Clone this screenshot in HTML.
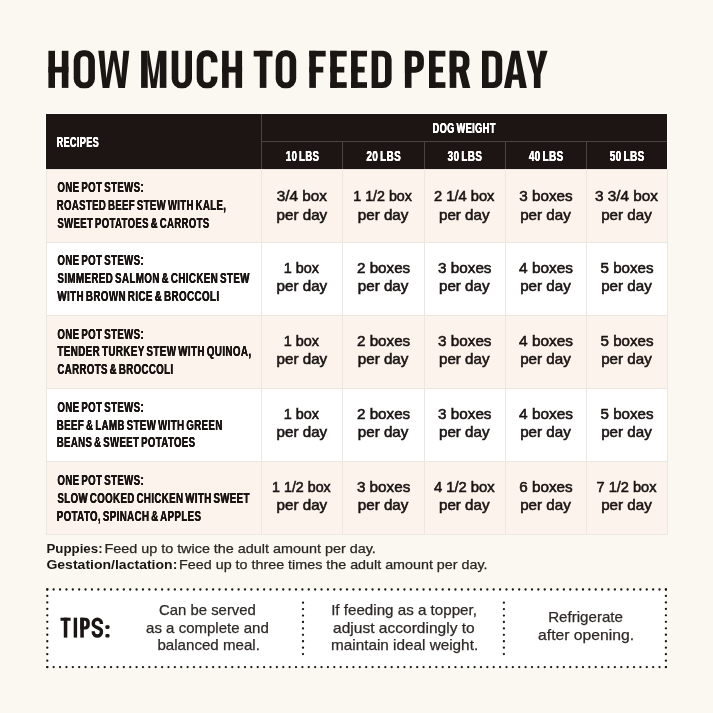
<!DOCTYPE html>
<html><head><meta charset="utf-8"><title>How much to feed per day</title>
<style>
html,body{margin:0;padding:0}
body{width:713px;height:713px;background:#fbf8f1;position:relative;overflow:hidden;font-family:"Liberation Sans",sans-serif}
.b{position:absolute}
#txt{position:absolute;left:0;top:0;width:713px;height:713px;will-change:transform}
.t{position:absolute;left:0;top:0;white-space:nowrap;line-height:1;transform-origin:0 0;font-family:"Liberation Sans",sans-serif}
</style></head><body>
<div class="b" style="left:46.40px;top:114.30px;width:620.90px;height:54.70px;background:#1d1514"></div>
<div class="b" style="left:46.40px;top:169.00px;width:620.90px;height:73.70px;background:#fbf3ec"></div>
<div class="b" style="left:46.40px;top:242.70px;width:620.90px;height:72.80px;background:#ffffff"></div>
<div class="b" style="left:46.40px;top:315.50px;width:620.90px;height:73.00px;background:#fbf3ec"></div>
<div class="b" style="left:46.40px;top:388.50px;width:620.90px;height:73.00px;background:#ffffff"></div>
<div class="b" style="left:46.40px;top:461.50px;width:620.90px;height:73.10px;background:#fbf3ec"></div>
<div class="b" style="left:45.90px;top:169.00px;width:1.00px;height:365.60px;background:#ede7e1"></div>
<div class="b" style="left:261.20px;top:169.00px;width:1.00px;height:365.60px;background:#ede7e1"></div>
<div class="b" style="left:342.40px;top:169.00px;width:1.00px;height:365.60px;background:#ede7e1"></div>
<div class="b" style="left:423.60px;top:169.00px;width:1.00px;height:365.60px;background:#ede7e1"></div>
<div class="b" style="left:504.80px;top:169.00px;width:1.00px;height:365.60px;background:#ede7e1"></div>
<div class="b" style="left:586.00px;top:169.00px;width:1.00px;height:365.60px;background:#ede7e1"></div>
<div class="b" style="left:666.80px;top:169.00px;width:1.00px;height:365.60px;background:#ede7e1"></div>
<div class="b" style="left:45.90px;top:168.50px;width:621.90px;height:1.00px;background:#ede7e1"></div>
<div class="b" style="left:45.90px;top:242.20px;width:621.90px;height:1.00px;background:#ede7e1"></div>
<div class="b" style="left:45.90px;top:315.00px;width:621.90px;height:1.00px;background:#ede7e1"></div>
<div class="b" style="left:45.90px;top:388.00px;width:621.90px;height:1.00px;background:#ede7e1"></div>
<div class="b" style="left:45.90px;top:461.00px;width:621.90px;height:1.00px;background:#ede7e1"></div>
<div class="b" style="left:45.90px;top:534.10px;width:621.90px;height:1.00px;background:#ede7e1"></div>
<div class="b" style="left:261.20px;top:114.30px;width:1.00px;height:54.70px;background:#4b4340"></div>
<div class="b" style="left:342.40px;top:141.60px;width:1.00px;height:27.40px;background:#4b4340"></div>
<div class="b" style="left:423.60px;top:141.60px;width:1.00px;height:27.40px;background:#4b4340"></div>
<div class="b" style="left:504.80px;top:141.60px;width:1.00px;height:27.40px;background:#4b4340"></div>
<div class="b" style="left:586.00px;top:141.60px;width:1.00px;height:27.40px;background:#4b4340"></div>
<div class="b" style="left:261.70px;top:141.10px;width:405.60px;height:1.00px;background:#4b4340"></div>
<div class="b" style="left:45.40px;top:113.30px;width:622.90px;height:1.00px;background:#fffdfa"></div>
<div class="b" style="left:667.30px;top:113.30px;width:1.00px;height:55.70px;background:#fffdfa"></div>
<div class="b" style="left:45.40px;top:113.30px;width:1.00px;height:55.70px;background:#fffdfa"></div>
<svg class="b" style="left:0;top:0" width="713" height="713" viewBox="0 0 713 713" role="img" aria-label="HOW MUCH TO FEED PER DAY"><rect x="47.3" y="589.5" width="618.60" height="77.60" fill="#fff"/><g fill="#1a1413"><circle cx="47.30" cy="589.50" r="1.15"/><circle cx="53.68" cy="589.50" r="1.15"/><circle cx="60.05" cy="589.50" r="1.15"/><circle cx="66.43" cy="589.50" r="1.15"/><circle cx="72.81" cy="589.50" r="1.15"/><circle cx="79.19" cy="589.50" r="1.15"/><circle cx="85.56" cy="589.50" r="1.15"/><circle cx="91.94" cy="589.50" r="1.15"/><circle cx="98.32" cy="589.50" r="1.15"/><circle cx="104.70" cy="589.50" r="1.15"/><circle cx="111.07" cy="589.50" r="1.15"/><circle cx="117.45" cy="589.50" r="1.15"/><circle cx="123.83" cy="589.50" r="1.15"/><circle cx="130.21" cy="589.50" r="1.15"/><circle cx="136.58" cy="589.50" r="1.15"/><circle cx="142.96" cy="589.50" r="1.15"/><circle cx="149.34" cy="589.50" r="1.15"/><circle cx="155.71" cy="589.50" r="1.15"/><circle cx="162.09" cy="589.50" r="1.15"/><circle cx="168.47" cy="589.50" r="1.15"/><circle cx="174.85" cy="589.50" r="1.15"/><circle cx="181.22" cy="589.50" r="1.15"/><circle cx="187.60" cy="589.50" r="1.15"/><circle cx="193.98" cy="589.50" r="1.15"/><circle cx="200.36" cy="589.50" r="1.15"/><circle cx="206.73" cy="589.50" r="1.15"/><circle cx="213.11" cy="589.50" r="1.15"/><circle cx="219.49" cy="589.50" r="1.15"/><circle cx="225.86" cy="589.50" r="1.15"/><circle cx="232.24" cy="589.50" r="1.15"/><circle cx="238.62" cy="589.50" r="1.15"/><circle cx="245.00" cy="589.50" r="1.15"/><circle cx="251.37" cy="589.50" r="1.15"/><circle cx="257.75" cy="589.50" r="1.15"/><circle cx="264.13" cy="589.50" r="1.15"/><circle cx="270.51" cy="589.50" r="1.15"/><circle cx="276.88" cy="589.50" r="1.15"/><circle cx="283.26" cy="589.50" r="1.15"/><circle cx="289.64" cy="589.50" r="1.15"/><circle cx="296.02" cy="589.50" r="1.15"/><circle cx="302.39" cy="589.50" r="1.15"/><circle cx="308.77" cy="589.50" r="1.15"/><circle cx="315.15" cy="589.50" r="1.15"/><circle cx="321.52" cy="589.50" r="1.15"/><circle cx="327.90" cy="589.50" r="1.15"/><circle cx="334.28" cy="589.50" r="1.15"/><circle cx="340.66" cy="589.50" r="1.15"/><circle cx="347.03" cy="589.50" r="1.15"/><circle cx="353.41" cy="589.50" r="1.15"/><circle cx="359.79" cy="589.50" r="1.15"/><circle cx="366.17" cy="589.50" r="1.15"/><circle cx="372.54" cy="589.50" r="1.15"/><circle cx="378.92" cy="589.50" r="1.15"/><circle cx="385.30" cy="589.50" r="1.15"/><circle cx="391.68" cy="589.50" r="1.15"/><circle cx="398.05" cy="589.50" r="1.15"/><circle cx="404.43" cy="589.50" r="1.15"/><circle cx="410.81" cy="589.50" r="1.15"/><circle cx="417.18" cy="589.50" r="1.15"/><circle cx="423.56" cy="589.50" r="1.15"/><circle cx="429.94" cy="589.50" r="1.15"/><circle cx="436.32" cy="589.50" r="1.15"/><circle cx="442.69" cy="589.50" r="1.15"/><circle cx="449.07" cy="589.50" r="1.15"/><circle cx="455.45" cy="589.50" r="1.15"/><circle cx="461.83" cy="589.50" r="1.15"/><circle cx="468.20" cy="589.50" r="1.15"/><circle cx="474.58" cy="589.50" r="1.15"/><circle cx="480.96" cy="589.50" r="1.15"/><circle cx="487.34" cy="589.50" r="1.15"/><circle cx="493.71" cy="589.50" r="1.15"/><circle cx="500.09" cy="589.50" r="1.15"/><circle cx="506.47" cy="589.50" r="1.15"/><circle cx="512.84" cy="589.50" r="1.15"/><circle cx="519.22" cy="589.50" r="1.15"/><circle cx="525.60" cy="589.50" r="1.15"/><circle cx="531.98" cy="589.50" r="1.15"/><circle cx="538.35" cy="589.50" r="1.15"/><circle cx="544.73" cy="589.50" r="1.15"/><circle cx="551.11" cy="589.50" r="1.15"/><circle cx="557.49" cy="589.50" r="1.15"/><circle cx="563.86" cy="589.50" r="1.15"/><circle cx="570.24" cy="589.50" r="1.15"/><circle cx="576.62" cy="589.50" r="1.15"/><circle cx="582.99" cy="589.50" r="1.15"/><circle cx="589.37" cy="589.50" r="1.15"/><circle cx="595.75" cy="589.50" r="1.15"/><circle cx="602.13" cy="589.50" r="1.15"/><circle cx="608.50" cy="589.50" r="1.15"/><circle cx="614.88" cy="589.50" r="1.15"/><circle cx="621.26" cy="589.50" r="1.15"/><circle cx="627.64" cy="589.50" r="1.15"/><circle cx="634.01" cy="589.50" r="1.15"/><circle cx="640.39" cy="589.50" r="1.15"/><circle cx="646.77" cy="589.50" r="1.15"/><circle cx="653.15" cy="589.50" r="1.15"/><circle cx="659.52" cy="589.50" r="1.15"/><circle cx="665.90" cy="589.50" r="1.15"/><circle cx="47.30" cy="667.10" r="1.15"/><circle cx="53.68" cy="667.10" r="1.15"/><circle cx="60.05" cy="667.10" r="1.15"/><circle cx="66.43" cy="667.10" r="1.15"/><circle cx="72.81" cy="667.10" r="1.15"/><circle cx="79.19" cy="667.10" r="1.15"/><circle cx="85.56" cy="667.10" r="1.15"/><circle cx="91.94" cy="667.10" r="1.15"/><circle cx="98.32" cy="667.10" r="1.15"/><circle cx="104.70" cy="667.10" r="1.15"/><circle cx="111.07" cy="667.10" r="1.15"/><circle cx="117.45" cy="667.10" r="1.15"/><circle cx="123.83" cy="667.10" r="1.15"/><circle cx="130.21" cy="667.10" r="1.15"/><circle cx="136.58" cy="667.10" r="1.15"/><circle cx="142.96" cy="667.10" r="1.15"/><circle cx="149.34" cy="667.10" r="1.15"/><circle cx="155.71" cy="667.10" r="1.15"/><circle cx="162.09" cy="667.10" r="1.15"/><circle cx="168.47" cy="667.10" r="1.15"/><circle cx="174.85" cy="667.10" r="1.15"/><circle cx="181.22" cy="667.10" r="1.15"/><circle cx="187.60" cy="667.10" r="1.15"/><circle cx="193.98" cy="667.10" r="1.15"/><circle cx="200.36" cy="667.10" r="1.15"/><circle cx="206.73" cy="667.10" r="1.15"/><circle cx="213.11" cy="667.10" r="1.15"/><circle cx="219.49" cy="667.10" r="1.15"/><circle cx="225.86" cy="667.10" r="1.15"/><circle cx="232.24" cy="667.10" r="1.15"/><circle cx="238.62" cy="667.10" r="1.15"/><circle cx="245.00" cy="667.10" r="1.15"/><circle cx="251.37" cy="667.10" r="1.15"/><circle cx="257.75" cy="667.10" r="1.15"/><circle cx="264.13" cy="667.10" r="1.15"/><circle cx="270.51" cy="667.10" r="1.15"/><circle cx="276.88" cy="667.10" r="1.15"/><circle cx="283.26" cy="667.10" r="1.15"/><circle cx="289.64" cy="667.10" r="1.15"/><circle cx="296.02" cy="667.10" r="1.15"/><circle cx="302.39" cy="667.10" r="1.15"/><circle cx="308.77" cy="667.10" r="1.15"/><circle cx="315.15" cy="667.10" r="1.15"/><circle cx="321.52" cy="667.10" r="1.15"/><circle cx="327.90" cy="667.10" r="1.15"/><circle cx="334.28" cy="667.10" r="1.15"/><circle cx="340.66" cy="667.10" r="1.15"/><circle cx="347.03" cy="667.10" r="1.15"/><circle cx="353.41" cy="667.10" r="1.15"/><circle cx="359.79" cy="667.10" r="1.15"/><circle cx="366.17" cy="667.10" r="1.15"/><circle cx="372.54" cy="667.10" r="1.15"/><circle cx="378.92" cy="667.10" r="1.15"/><circle cx="385.30" cy="667.10" r="1.15"/><circle cx="391.68" cy="667.10" r="1.15"/><circle cx="398.05" cy="667.10" r="1.15"/><circle cx="404.43" cy="667.10" r="1.15"/><circle cx="410.81" cy="667.10" r="1.15"/><circle cx="417.18" cy="667.10" r="1.15"/><circle cx="423.56" cy="667.10" r="1.15"/><circle cx="429.94" cy="667.10" r="1.15"/><circle cx="436.32" cy="667.10" r="1.15"/><circle cx="442.69" cy="667.10" r="1.15"/><circle cx="449.07" cy="667.10" r="1.15"/><circle cx="455.45" cy="667.10" r="1.15"/><circle cx="461.83" cy="667.10" r="1.15"/><circle cx="468.20" cy="667.10" r="1.15"/><circle cx="474.58" cy="667.10" r="1.15"/><circle cx="480.96" cy="667.10" r="1.15"/><circle cx="487.34" cy="667.10" r="1.15"/><circle cx="493.71" cy="667.10" r="1.15"/><circle cx="500.09" cy="667.10" r="1.15"/><circle cx="506.47" cy="667.10" r="1.15"/><circle cx="512.84" cy="667.10" r="1.15"/><circle cx="519.22" cy="667.10" r="1.15"/><circle cx="525.60" cy="667.10" r="1.15"/><circle cx="531.98" cy="667.10" r="1.15"/><circle cx="538.35" cy="667.10" r="1.15"/><circle cx="544.73" cy="667.10" r="1.15"/><circle cx="551.11" cy="667.10" r="1.15"/><circle cx="557.49" cy="667.10" r="1.15"/><circle cx="563.86" cy="667.10" r="1.15"/><circle cx="570.24" cy="667.10" r="1.15"/><circle cx="576.62" cy="667.10" r="1.15"/><circle cx="582.99" cy="667.10" r="1.15"/><circle cx="589.37" cy="667.10" r="1.15"/><circle cx="595.75" cy="667.10" r="1.15"/><circle cx="602.13" cy="667.10" r="1.15"/><circle cx="608.50" cy="667.10" r="1.15"/><circle cx="614.88" cy="667.10" r="1.15"/><circle cx="621.26" cy="667.10" r="1.15"/><circle cx="627.64" cy="667.10" r="1.15"/><circle cx="634.01" cy="667.10" r="1.15"/><circle cx="640.39" cy="667.10" r="1.15"/><circle cx="646.77" cy="667.10" r="1.15"/><circle cx="653.15" cy="667.10" r="1.15"/><circle cx="659.52" cy="667.10" r="1.15"/><circle cx="665.90" cy="667.10" r="1.15"/><circle cx="47.30" cy="589.50" r="1.15"/><circle cx="47.30" cy="595.97" r="1.15"/><circle cx="47.30" cy="602.43" r="1.15"/><circle cx="47.30" cy="608.90" r="1.15"/><circle cx="47.30" cy="615.37" r="1.15"/><circle cx="47.30" cy="621.83" r="1.15"/><circle cx="47.30" cy="628.30" r="1.15"/><circle cx="47.30" cy="634.77" r="1.15"/><circle cx="47.30" cy="641.23" r="1.15"/><circle cx="47.30" cy="647.70" r="1.15"/><circle cx="47.30" cy="654.17" r="1.15"/><circle cx="47.30" cy="660.63" r="1.15"/><circle cx="47.30" cy="667.10" r="1.15"/><circle cx="665.90" cy="589.50" r="1.15"/><circle cx="665.90" cy="595.97" r="1.15"/><circle cx="665.90" cy="602.43" r="1.15"/><circle cx="665.90" cy="608.90" r="1.15"/><circle cx="665.90" cy="615.37" r="1.15"/><circle cx="665.90" cy="621.83" r="1.15"/><circle cx="665.90" cy="628.30" r="1.15"/><circle cx="665.90" cy="634.77" r="1.15"/><circle cx="665.90" cy="641.23" r="1.15"/><circle cx="665.90" cy="647.70" r="1.15"/><circle cx="665.90" cy="654.17" r="1.15"/><circle cx="665.90" cy="660.63" r="1.15"/><circle cx="665.90" cy="667.10" r="1.15"/><circle cx="303.00" cy="602.70" r="1.15"/><circle cx="303.00" cy="609.12" r="1.15"/><circle cx="303.00" cy="615.55" r="1.15"/><circle cx="303.00" cy="621.98" r="1.15"/><circle cx="303.00" cy="628.40" r="1.15"/><circle cx="303.00" cy="634.83" r="1.15"/><circle cx="303.00" cy="641.25" r="1.15"/><circle cx="303.00" cy="647.68" r="1.15"/><circle cx="303.00" cy="654.10" r="1.15"/><circle cx="503.90" cy="602.70" r="1.15"/><circle cx="503.90" cy="609.12" r="1.15"/><circle cx="503.90" cy="615.55" r="1.15"/><circle cx="503.90" cy="621.98" r="1.15"/><circle cx="503.90" cy="628.40" r="1.15"/><circle cx="503.90" cy="634.83" r="1.15"/><circle cx="503.90" cy="641.25" r="1.15"/><circle cx="503.90" cy="647.68" r="1.15"/><circle cx="503.90" cy="654.10" r="1.15"/></g><g fill="#1b1514" fill-rule="evenodd"><g transform="translate(48.4,50.8)"><path d="M0,0h6.6v37.1h-6.6z"/><path d="M13.4,0h6.6v37.1h-6.6z"/><path d="M0,16h20v5.7h-20z"/></g><g transform="translate(73.7,50.8)"><path d="M9.2,-0.45H12A9.2,9.6 0 0 1 21.2,9.15V27.95A9.2,9.6 0 0 1 12,37.55H9.2A9.2,9.6 0 0 1 0,27.95V9.15A9.2,9.6 0 0 1 9.2,-0.45zM10.6,5.45H10.6A4,4 0 0 1 14.6,9.45V27.65A4,4 0 0 1 10.6,31.65H10.6A4,4 0 0 1 6.6,27.65V9.45A4,4 0 0 1 10.6,5.45z"/></g><g transform="translate(98.3,50.8)"><path d="M0,0L6,0L8.05,27.6L12.8,0L18.2,0L22.95,27.6L25,0L31,0L26.65,37.1L20.05,37.1L15.5,9.5L10.95,37.1L4.35,37.1z"/></g><g transform="translate(141.1,50.8)"><path d="M0,0h6.6v37.1h-6.6z"/><path d="M18.7,0h6.6v37.1h-6.6z"/><path d="M6.4,0L7.8,0L12.65,28.6L17.5,0L18.9,0L18.9,10L15.35,37.1L9.95,37.1L6.4,10z"/></g><g transform="translate(171.7,50.8)"><path d="M0,0V27.95A9.2,9.6 0 0 0 9.2,37.55H11.1A9.2,9.6 0 0 0 20.3,27.95V0H13.7V27.85A3.55,4 0 0 1 6.6,27.85V0z"/></g><g transform="translate(196.7,50.8)"><path d="M9.2,-0.45H11.6A9.2,9.6 0 0 1 20.8,9.15V27.95A9.2,9.6 0 0 1 11.6,37.55H9.2A9.2,9.6 0 0 1 0,27.95V9.15A9.2,9.6 0 0 1 9.2,-0.45zM10.4,5.45H10.4A3.8,4 0 0 1 14.2,9.45V27.65A3.8,4 0 0 1 10.4,31.65H10.4A3.8,4 0 0 1 6.6,27.65V9.45A3.8,4 0 0 1 10.4,5.45z"/></g><g transform="translate(222.1,50.8)"><path d="M0,0h6.6v37.1h-6.6z"/><path d="M13.4,0h6.6v37.1h-6.6z"/><path d="M0,16h20v5.7h-20z"/></g><g transform="translate(253.7,50.8)"><path d="M0,0h18.8v5.7h-18.8z"/><path d="M6.1,0h6.6v37.1h-6.6z"/></g><g transform="translate(275.7,50.8)"><path d="M9.2,-0.45H11.3A9.2,9.6 0 0 1 20.5,9.15V27.95A9.2,9.6 0 0 1 11.3,37.55H9.2A9.2,9.6 0 0 1 0,27.95V9.15A9.2,9.6 0 0 1 9.2,-0.45zM10.25,5.45H10.25A3.65,4 0 0 1 13.9,9.45V27.65A3.65,4 0 0 1 10.25,31.65H10.25A3.65,4 0 0 1 6.6,27.65V9.45A3.65,4 0 0 1 10.25,5.45z"/></g><g transform="translate(309.3,50.8)"><path d="M0,0h6.6v37.1h-6.6z"/><path d="M0,0h16.4v5.7h-16.4z"/><path d="M0,16h14v5.7h-14z"/></g><g transform="translate(330.3,50.8)"><path d="M0,0h6.6v37.1h-6.6z"/><path d="M0,0h16.4v5.7h-16.4z"/><path d="M0,16h14v5.7h-14z"/><path d="M0,31.4h16.4v5.7h-16.4z"/></g><g transform="translate(351.1,50.8)"><path d="M0,0h6.6v37.1h-6.6z"/><path d="M0,0h15.9v5.7h-15.9z"/><path d="M0,16h13.5v5.7h-13.5z"/><path d="M0,31.4h15.9v5.7h-15.9z"/></g><g transform="translate(371.6,50.8)"><path d="M0,0H11.4A8.6,8.6 0 0 1 20,8.6V28.5A8.6,8.6 0 0 1 11.4,37.1H0zM6.6,5.7H10.2A3.2,3.2 0 0 1 13.4,8.9V28.2A3.2,3.2 0 0 1 10.2,31.4H6.6z"/></g><g transform="translate(404.9,50.8)"><path d="M0,0h6.6v37.1h-6.6z"/><path d="M0,0H10.8A8.2,8.2 0 0 1 19,8.2V13.7A8.2,8.2 0 0 1 10.8,21.9H0zM6.6,5.7H9.4A3,3 0 0 1 12.4,8.7V13.2A3,3 0 0 1 9.4,16.2H6.6z"/></g><g transform="translate(429,50.8)"><path d="M0,0h6.6v37.1h-6.6z"/><path d="M0,0h16.4v5.7h-16.4z"/><path d="M0,16h14v5.7h-14z"/><path d="M0,31.4h16.4v5.7h-16.4z"/></g><g transform="translate(449.7,50.8)"><path d="M0,0h6.6v37.1h-6.6z"/><path d="M0,0H11.5A8.2,8.2 0 0 1 19.7,8.2V13.4A8.2,8.2 0 0 1 11.5,21.6H0zM6.6,5.7H10.1A3,3 0 0 1 13.1,8.7V12.9A3,3 0 0 1 10.1,15.9H6.6z"/><path d="M8.8,19.5L16,19.5L20.6,37.1L13,37.1z"/></g><g transform="translate(482,50.8)"><path d="M0,0H11.6A8.6,8.6 0 0 1 20.2,8.6V28.5A8.6,8.6 0 0 1 11.6,37.1H0zM6.6,5.7H10.4A3.2,3.2 0 0 1 13.6,8.9V28.2A3.2,3.2 0 0 1 10.4,31.4H6.6z"/></g><g transform="translate(504,50.8)"><path d="M0,37.1L7.6,0L15.2,0L22.8,37.1L15.8,37.1L11.4,7.5L7,37.1z"/><path d="M8.51,23.6L14.29,23.6L15.08,28.9L7.72,28.9z"/></g><g transform="translate(526.8,50.8)"><path d="M0,0L7.2,0L10.4,17.5L13.6,0L20.8,0L13.7,23.5L13.7,37.1L7.1,37.1L7.1,23.5z"/></g></g><rect x="210.3" y="62.4" width="8.2" height="14.2" fill="#fbf8f1"/><g fill="#1b1514" fill-rule="evenodd"><g transform="translate(60.5,617.7) scale(0.5364)"><path d="M0,0h18.83v5.7h-18.83z"/><path d="M6.11,0h6.6v37.1h-6.6z"/></g><g transform="translate(73.7,617.7) scale(0.5364)"><path d="M0,0h6.34v37.1h-6.34z"/></g><g transform="translate(80.3,617.7) scale(0.5364)"><path d="M0,0h6.6v37.1h-6.6z"/><path d="M0,0H9.51A8.2,8.2 0 0 1 17.71,8.2V13.7A8.2,8.2 0 0 1 9.51,21.9H0zM6.6,5.7H8.11A3,3 0 0 1 11.11,8.7V13.2A3,3 0 0 1 8.11,16.2H6.6z"/></g><g transform="translate(91.6,617.7) scale(0.5364)"><path d="M18.24,11.6V9.9A7.52,6.9 0 0 0 3.2,9.9V12.4C3.2,18.6 18.24,18.2 18.24,24.7V27.2A7.52,6.9 0 0 1 3.2,27.2V25.3" fill="none" stroke="#1b1514" stroke-width="6.4"/></g><rect x="105.4" y="625.2" width="4.1" height="3.7" rx="1.1"/><rect x="105.4" y="633.9" width="4.1" height="3.7" rx="1.1"/></g></svg>
<div id="txt">
<span class="t" style="font-size:15.3px;font-weight:700;color:#fff;transform:translate(56.63px,133.95px) scale(0.5896,1.0);text-shadow:0.20px 0 0 #fff,-0.20px 0 0 #fff;letter-spacing:0.7px;word-spacing:-2.0px;">RECIPES</span>
<span class="t" style="font-size:15.3px;font-weight:700;color:#fff;transform:translate(432.62px,120.25px) scale(0.6002,1.0);text-shadow:0.20px 0 0 #fff,-0.20px 0 0 #fff;letter-spacing:0.7px;word-spacing:-2.0px;">DOG WEIGHT</span>
<span class="t" style="font-size:15.3px;font-weight:700;color:#fff;transform:translate(285.82px,147.65px) scale(0.6201,1.0);text-shadow:0.19px 0 0 #fff,-0.19px 0 0 #fff;letter-spacing:0.7px;word-spacing:-2.0px;">10 LBS</span>
<span class="t" style="font-size:15.3px;font-weight:700;color:#fff;transform:translate(366.42px,147.65px) scale(0.6426,1.0);text-shadow:0.19px 0 0 #fff,-0.19px 0 0 #fff;letter-spacing:0.7px;word-spacing:-2.0px;">20 LBS</span>
<span class="t" style="font-size:15.3px;font-weight:700;color:#fff;transform:translate(447.62px,147.65px) scale(0.6426,1.0);text-shadow:0.19px 0 0 #fff,-0.19px 0 0 #fff;letter-spacing:0.7px;word-spacing:-2.0px;">30 LBS</span>
<span class="t" style="font-size:15.3px;font-weight:700;color:#fff;transform:translate(528.82px,147.65px) scale(0.6426,1.0);text-shadow:0.19px 0 0 #fff,-0.19px 0 0 #fff;letter-spacing:0.7px;word-spacing:-2.0px;">40 LBS</span>
<span class="t" style="font-size:15.3px;font-weight:700;color:#fff;transform:translate(609.82px,147.65px) scale(0.6426,1.0);text-shadow:0.19px 0 0 #fff,-0.19px 0 0 #fff;letter-spacing:0.7px;word-spacing:-2.0px;">50 LBS</span>
<span class="t" style="font-size:15.3px;font-weight:700;color:#1a1413;transform:translate(57.41px,179.35px) scale(0.6269,1.0);text-shadow:0.26px 0 0 #1a1413,-0.26px 0 0 #1a1413;letter-spacing:0.7px;word-spacing:-2.0px;">ONE POT STEWS:</span>
<span class="t" style="font-size:15.3px;font-weight:700;color:#1a1413;transform:translate(56.79px,197.25px) scale(0.6202,1.0);text-shadow:0.26px 0 0 #1a1413,-0.26px 0 0 #1a1413;letter-spacing:0.7px;word-spacing:-2.0px;">ROASTED BEEF STEW WITH KALE,</span>
<span class="t" style="font-size:15.3px;font-weight:700;color:#1a1413;transform:translate(57.41px,215.15px) scale(0.6181,1.0);text-shadow:0.26px 0 0 #1a1413,-0.26px 0 0 #1a1413;letter-spacing:0.7px;word-spacing:-2.0px;">SWEET POTATOES &amp; CARROTS</span>
<span class="t" style="font-size:15.3px;font-weight:700;color:#1a1413;transform:translate(57.41px,252.45px) scale(0.6269,1.0);text-shadow:0.26px 0 0 #1a1413,-0.26px 0 0 #1a1413;letter-spacing:0.7px;word-spacing:-2.0px;">ONE POT STEWS:</span>
<span class="t" style="font-size:15.3px;font-weight:700;color:#1a1413;transform:translate(57.41px,270.35px) scale(0.6337,1.0);text-shadow:0.25px 0 0 #1a1413,-0.25px 0 0 #1a1413;letter-spacing:0.7px;word-spacing:-2.0px;">SIMMERED SALMON &amp; CHICKEN STEW</span>
<span class="t" style="font-size:15.3px;font-weight:700;color:#1a1413;transform:translate(57.41px,288.25px) scale(0.6360,1.0);text-shadow:0.25px 0 0 #1a1413,-0.25px 0 0 #1a1413;letter-spacing:0.7px;word-spacing:-2.0px;">WITH BROWN RICE &amp; BROCCOLI</span>
<span class="t" style="font-size:15.3px;font-weight:700;color:#1a1413;transform:translate(57.41px,325.55px) scale(0.6269,1.0);text-shadow:0.26px 0 0 #1a1413,-0.26px 0 0 #1a1413;letter-spacing:0.7px;word-spacing:-2.0px;">ONE POT STEWS:</span>
<span class="t" style="font-size:15.3px;font-weight:700;color:#1a1413;transform:translate(57.41px,343.45px) scale(0.6368,1.0);text-shadow:0.25px 0 0 #1a1413,-0.25px 0 0 #1a1413;letter-spacing:0.7px;word-spacing:-2.0px;">TENDER TURKEY STEW WITH QUINOA,</span>
<span class="t" style="font-size:15.3px;font-weight:700;color:#1a1413;transform:translate(57.41px,361.35px) scale(0.6265,1.0);text-shadow:0.26px 0 0 #1a1413,-0.26px 0 0 #1a1413;letter-spacing:0.7px;word-spacing:-2.0px;">CARROTS &amp; BROCCOLI</span>
<span class="t" style="font-size:15.3px;font-weight:700;color:#1a1413;transform:translate(57.41px,398.65px) scale(0.6269,1.0);text-shadow:0.26px 0 0 #1a1413,-0.26px 0 0 #1a1413;letter-spacing:0.7px;word-spacing:-2.0px;">ONE POT STEWS:</span>
<span class="t" style="font-size:15.3px;font-weight:700;color:#1a1413;transform:translate(56.78px,416.55px) scale(0.6289,1.0);text-shadow:0.25px 0 0 #1a1413,-0.25px 0 0 #1a1413;letter-spacing:0.7px;word-spacing:-2.0px;">BEEF &amp; LAMB STEW WITH GREEN</span>
<span class="t" style="font-size:15.3px;font-weight:700;color:#1a1413;transform:translate(56.79px,434.45px) scale(0.6224,1.0);text-shadow:0.26px 0 0 #1a1413,-0.26px 0 0 #1a1413;letter-spacing:0.7px;word-spacing:-2.0px;">BEANS &amp; SWEET POTATOES</span>
<span class="t" style="font-size:15.3px;font-weight:700;color:#1a1413;transform:translate(57.41px,471.75px) scale(0.6269,1.0);text-shadow:0.26px 0 0 #1a1413,-0.26px 0 0 #1a1413;letter-spacing:0.7px;word-spacing:-2.0px;">ONE POT STEWS:</span>
<span class="t" style="font-size:15.3px;font-weight:700;color:#1a1413;transform:translate(57.41px,489.65px) scale(0.6286,1.0);text-shadow:0.25px 0 0 #1a1413,-0.25px 0 0 #1a1413;letter-spacing:0.7px;word-spacing:-2.0px;">SLOW COOKED CHICKEN WITH SWEET</span>
<span class="t" style="font-size:15.3px;font-weight:700;color:#1a1413;transform:translate(56.78px,507.55px) scale(0.6299,1.0);text-shadow:0.25px 0 0 #1a1413,-0.25px 0 0 #1a1413;letter-spacing:0.7px;word-spacing:-2.0px;">POTATO, SPINACH &amp; APPLES</span>
<span class="t" style="font-size:14.4px;font-weight:400;color:#1a1413;transform:translate(276.72px,189.21px) scale(1.0654,1.0);-webkit-text-stroke:0.55px #1a1413;">3/4 box</span>
<span class="t" style="font-size:14.4px;font-weight:400;color:#1a1413;transform:translate(276.57px,208.21px) scale(1.0542,1.0);-webkit-text-stroke:0.55px #1a1413;">per day</span>
<span class="t" style="font-size:14.4px;font-weight:400;color:#1a1413;transform:translate(353.28px,189.21px) scale(0.9905,1.0);-webkit-text-stroke:0.55px #1a1413;">1 1/2 box</span>
<span class="t" style="font-size:14.4px;font-weight:400;color:#1a1413;transform:translate(357.77px,208.21px) scale(1.0542,1.0);-webkit-text-stroke:0.55px #1a1413;">per day</span>
<span class="t" style="font-size:14.4px;font-weight:400;color:#1a1413;transform:translate(434.12px,189.21px) scale(1.0190,1.0);-webkit-text-stroke:0.55px #1a1413;">2 1/4 box</span>
<span class="t" style="font-size:14.4px;font-weight:400;color:#1a1413;transform:translate(438.98px,208.21px) scale(1.0542,1.0);-webkit-text-stroke:0.55px #1a1413;">per day</span>
<span class="t" style="font-size:14.4px;font-weight:400;color:#1a1413;transform:translate(519.32px,189.21px) scale(1.0586,1.0);-webkit-text-stroke:0.55px #1a1413;">3 boxes</span>
<span class="t" style="font-size:14.4px;font-weight:400;color:#1a1413;transform:translate(520.17px,208.21px) scale(1.0542,1.0);-webkit-text-stroke:0.55px #1a1413;">per day</span>
<span class="t" style="font-size:14.4px;font-weight:400;color:#1a1413;transform:translate(595.02px,189.21px) scale(1.0623,1.0);-webkit-text-stroke:0.55px #1a1413;">3 3/4 box</span>
<span class="t" style="font-size:14.4px;font-weight:400;color:#1a1413;transform:translate(601.17px,208.21px) scale(1.0542,1.0);-webkit-text-stroke:0.55px #1a1413;">per day</span>
<span class="t" style="font-size:14.4px;font-weight:400;color:#1a1413;transform:translate(283.77px,260.51px) scale(1.0012,1.0);-webkit-text-stroke:0.55px #1a1413;">1 box</span>
<span class="t" style="font-size:14.4px;font-weight:400;color:#1a1413;transform:translate(276.57px,279.21px) scale(1.0542,1.0);-webkit-text-stroke:0.55px #1a1413;">per day</span>
<span class="t" style="font-size:14.4px;font-weight:400;color:#1a1413;transform:translate(357.02px,260.51px) scale(1.0546,1.0);-webkit-text-stroke:0.55px #1a1413;">2 boxes</span>
<span class="t" style="font-size:14.4px;font-weight:400;color:#1a1413;transform:translate(357.77px,279.21px) scale(1.0542,1.0);-webkit-text-stroke:0.55px #1a1413;">per day</span>
<span class="t" style="font-size:14.4px;font-weight:400;color:#1a1413;transform:translate(438.12px,260.51px) scale(1.0586,1.0);-webkit-text-stroke:0.55px #1a1413;">3 boxes</span>
<span class="t" style="font-size:14.4px;font-weight:400;color:#1a1413;transform:translate(438.98px,279.21px) scale(1.0542,1.0);-webkit-text-stroke:0.55px #1a1413;">per day</span>
<span class="t" style="font-size:14.4px;font-weight:400;color:#1a1413;transform:translate(519.07px,260.51px) scale(1.0686,1.0);-webkit-text-stroke:0.55px #1a1413;">4 boxes</span>
<span class="t" style="font-size:14.4px;font-weight:400;color:#1a1413;transform:translate(520.17px,279.21px) scale(1.0542,1.0);-webkit-text-stroke:0.55px #1a1413;">per day</span>
<span class="t" style="font-size:14.4px;font-weight:400;color:#1a1413;transform:translate(600.52px,260.51px) scale(1.0506,1.0);-webkit-text-stroke:0.55px #1a1413;">5 boxes</span>
<span class="t" style="font-size:14.4px;font-weight:400;color:#1a1413;transform:translate(601.17px,279.21px) scale(1.0542,1.0);-webkit-text-stroke:0.55px #1a1413;">per day</span>
<span class="t" style="font-size:14.4px;font-weight:400;color:#1a1413;transform:translate(283.77px,333.51px) scale(1.0012,1.0);-webkit-text-stroke:0.55px #1a1413;">1 box</span>
<span class="t" style="font-size:14.4px;font-weight:400;color:#1a1413;transform:translate(276.57px,352.21px) scale(1.0542,1.0);-webkit-text-stroke:0.55px #1a1413;">per day</span>
<span class="t" style="font-size:14.4px;font-weight:400;color:#1a1413;transform:translate(357.02px,333.51px) scale(1.0546,1.0);-webkit-text-stroke:0.55px #1a1413;">2 boxes</span>
<span class="t" style="font-size:14.4px;font-weight:400;color:#1a1413;transform:translate(357.77px,352.21px) scale(1.0542,1.0);-webkit-text-stroke:0.55px #1a1413;">per day</span>
<span class="t" style="font-size:14.4px;font-weight:400;color:#1a1413;transform:translate(438.12px,333.51px) scale(1.0586,1.0);-webkit-text-stroke:0.55px #1a1413;">3 boxes</span>
<span class="t" style="font-size:14.4px;font-weight:400;color:#1a1413;transform:translate(438.98px,352.21px) scale(1.0542,1.0);-webkit-text-stroke:0.55px #1a1413;">per day</span>
<span class="t" style="font-size:14.4px;font-weight:400;color:#1a1413;transform:translate(519.07px,333.51px) scale(1.0686,1.0);-webkit-text-stroke:0.55px #1a1413;">4 boxes</span>
<span class="t" style="font-size:14.4px;font-weight:400;color:#1a1413;transform:translate(520.17px,352.21px) scale(1.0542,1.0);-webkit-text-stroke:0.55px #1a1413;">per day</span>
<span class="t" style="font-size:14.4px;font-weight:400;color:#1a1413;transform:translate(600.52px,333.51px) scale(1.0506,1.0);-webkit-text-stroke:0.55px #1a1413;">5 boxes</span>
<span class="t" style="font-size:14.4px;font-weight:400;color:#1a1413;transform:translate(601.17px,352.21px) scale(1.0542,1.0);-webkit-text-stroke:0.55px #1a1413;">per day</span>
<span class="t" style="font-size:14.4px;font-weight:400;color:#1a1413;transform:translate(283.77px,406.51px) scale(1.0012,1.0);-webkit-text-stroke:0.55px #1a1413;">1 box</span>
<span class="t" style="font-size:14.4px;font-weight:400;color:#1a1413;transform:translate(276.57px,425.21px) scale(1.0542,1.0);-webkit-text-stroke:0.55px #1a1413;">per day</span>
<span class="t" style="font-size:14.4px;font-weight:400;color:#1a1413;transform:translate(357.02px,406.51px) scale(1.0546,1.0);-webkit-text-stroke:0.55px #1a1413;">2 boxes</span>
<span class="t" style="font-size:14.4px;font-weight:400;color:#1a1413;transform:translate(357.77px,425.21px) scale(1.0542,1.0);-webkit-text-stroke:0.55px #1a1413;">per day</span>
<span class="t" style="font-size:14.4px;font-weight:400;color:#1a1413;transform:translate(438.12px,406.51px) scale(1.0586,1.0);-webkit-text-stroke:0.55px #1a1413;">3 boxes</span>
<span class="t" style="font-size:14.4px;font-weight:400;color:#1a1413;transform:translate(438.98px,425.21px) scale(1.0542,1.0);-webkit-text-stroke:0.55px #1a1413;">per day</span>
<span class="t" style="font-size:14.4px;font-weight:400;color:#1a1413;transform:translate(519.07px,406.51px) scale(1.0686,1.0);-webkit-text-stroke:0.55px #1a1413;">4 boxes</span>
<span class="t" style="font-size:14.4px;font-weight:400;color:#1a1413;transform:translate(520.17px,425.21px) scale(1.0542,1.0);-webkit-text-stroke:0.55px #1a1413;">per day</span>
<span class="t" style="font-size:14.4px;font-weight:400;color:#1a1413;transform:translate(600.52px,406.51px) scale(1.0506,1.0);-webkit-text-stroke:0.55px #1a1413;">5 boxes</span>
<span class="t" style="font-size:14.4px;font-weight:400;color:#1a1413;transform:translate(601.17px,425.21px) scale(1.0542,1.0);-webkit-text-stroke:0.55px #1a1413;">per day</span>
<span class="t" style="font-size:14.4px;font-weight:400;color:#1a1413;transform:translate(272.08px,479.51px) scale(0.9905,1.0);-webkit-text-stroke:0.55px #1a1413;">1 1/2 box</span>
<span class="t" style="font-size:14.4px;font-weight:400;color:#1a1413;transform:translate(276.57px,498.21px) scale(1.0542,1.0);-webkit-text-stroke:0.55px #1a1413;">per day</span>
<span class="t" style="font-size:14.4px;font-weight:400;color:#1a1413;transform:translate(356.92px,479.51px) scale(1.0586,1.0);-webkit-text-stroke:0.55px #1a1413;">3 boxes</span>
<span class="t" style="font-size:14.4px;font-weight:400;color:#1a1413;transform:translate(357.77px,498.21px) scale(1.0542,1.0);-webkit-text-stroke:0.55px #1a1413;">per day</span>
<span class="t" style="font-size:14.4px;font-weight:400;color:#1a1413;transform:translate(433.88px,479.51px) scale(1.0273,1.0);-webkit-text-stroke:0.55px #1a1413;">4 1/2 box</span>
<span class="t" style="font-size:14.4px;font-weight:400;color:#1a1413;transform:translate(438.98px,498.21px) scale(1.0542,1.0);-webkit-text-stroke:0.55px #1a1413;">per day</span>
<span class="t" style="font-size:14.4px;font-weight:400;color:#1a1413;transform:translate(519.32px,479.51px) scale(1.0586,1.0);-webkit-text-stroke:0.55px #1a1413;">6 boxes</span>
<span class="t" style="font-size:14.4px;font-weight:400;color:#1a1413;transform:translate(520.17px,498.21px) scale(1.0542,1.0);-webkit-text-stroke:0.55px #1a1413;">per day</span>
<span class="t" style="font-size:14.4px;font-weight:400;color:#1a1413;transform:translate(596.57px,479.51px) scale(1.0106,1.0);-webkit-text-stroke:0.55px #1a1413;">7 1/2 box</span>
<span class="t" style="font-size:14.4px;font-weight:400;color:#1a1413;transform:translate(601.17px,498.21px) scale(1.0542,1.0);-webkit-text-stroke:0.55px #1a1413;">per day</span>
<span class="t" style="font-size:12.9px;font-weight:700;color:#1a1413;transform:translate(46.40px,542.68px) scale(1.0325,1.0);">Puppies:</span>
<span class="t" style="font-size:12.9px;font-weight:400;color:#2b2624;transform:translate(104.41px,542.68px) scale(1.1151,1.0);-webkit-text-stroke:0.25px #2b2624;">Feed up to twice the adult amount per day.</span>
<span class="t" style="font-size:12.9px;font-weight:700;color:#1a1413;transform:translate(46.40px,558.78px) scale(1.0880,1.0);">Gestation/lactation:</span>
<span class="t" style="font-size:12.9px;font-weight:400;color:#2b2624;transform:translate(179.11px,558.78px) scale(1.1102,1.0);-webkit-text-stroke:0.25px #2b2624;">Feed up to three times the adult amount per day.</span>
<span class="t" style="font-size:14.6px;font-weight:400;color:#2e2927;transform:translate(159.07px,602.84px) scale(1.0195,1.0);-webkit-text-stroke:0.25px #2e2927;">Can be served</span>
<span class="t" style="font-size:14.6px;font-weight:400;color:#2e2927;transform:translate(146.07px,620.54px) scale(1.0294,1.0);-webkit-text-stroke:0.25px #2e2927;">as a complete and</span>
<span class="t" style="font-size:14.6px;font-weight:400;color:#2e2927;transform:translate(157.42px,638.44px) scale(1.0350,1.0);-webkit-text-stroke:0.25px #2e2927;">balanced meal.</span>
<span class="t" style="font-size:14.6px;font-weight:400;color:#2e2927;transform:translate(331.14px,602.84px) scale(1.0386,1.0);-webkit-text-stroke:0.25px #2e2927;">If feeding as a topper,</span>
<span class="t" style="font-size:14.6px;font-weight:400;color:#2e2927;transform:translate(333.03px,620.54px) scale(1.0649,1.0);-webkit-text-stroke:0.25px #2e2927;">adjust accordingly to</span>
<span class="t" style="font-size:14.6px;font-weight:400;color:#2e2927;transform:translate(330.98px,638.44px) scale(1.0485,1.0);-webkit-text-stroke:0.25px #2e2927;">maintain ideal weight.</span>
<span class="t" style="font-size:14.6px;font-weight:400;color:#2e2927;transform:translate(548.14px,609.94px) scale(1.0362,1.0);-webkit-text-stroke:0.25px #2e2927;">Refrigerate</span>
<span class="t" style="font-size:14.6px;font-weight:400;color:#2e2927;transform:translate(538.08px,627.64px) scale(1.0754,1.0);-webkit-text-stroke:0.25px #2e2927;">after opening.</span>
</div>
</body></html>
